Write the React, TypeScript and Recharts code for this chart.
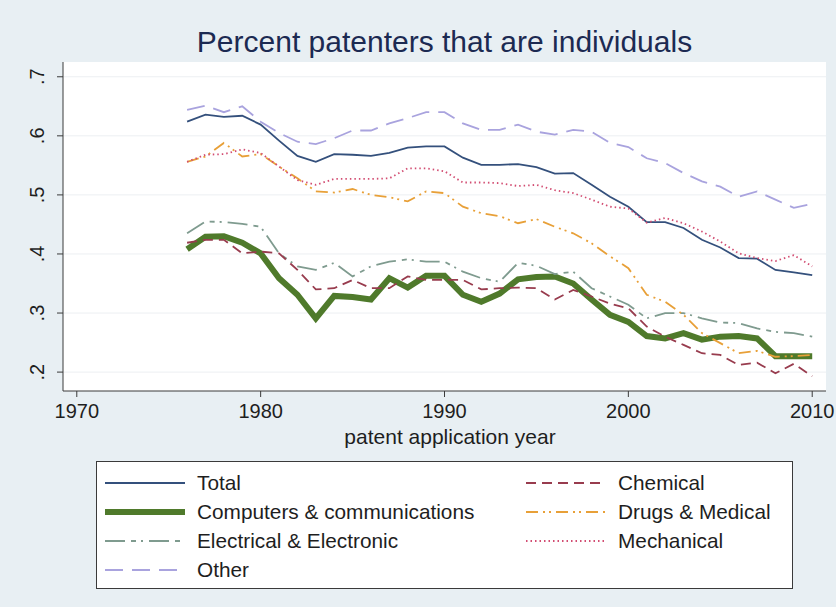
import React from 'react';
import { LineChart, Line, XAxis, YAxis, CartesianGrid } from 'recharts';

const years = [
  1976, 1977, 1978, 1979, 1980, 1981, 1982, 1983, 1984, 1985, 1986, 1987,
  1988, 1989, 1990, 1991, 1992, 1993, 1994, 1995, 1996, 1997, 1998, 1999,
  2000, 2001, 2002, 2003, 2004, 2005, 2006, 2007, 2008, 2009, 2010,
];

const total = [
  0.624, 0.636, 0.632, 0.634, 0.619, 0.592, 0.566, 0.556, 0.569, 0.568, 0.566, 0.571,
  0.580, 0.582, 0.582, 0.563, 0.551, 0.551, 0.552, 0.547, 0.536, 0.537, 0.517, 0.497,
  0.480, 0.454, 0.454, 0.444, 0.424, 0.411, 0.393, 0.392, 0.373, 0.369, 0.364,
];
const computers = [
  0.408, 0.429, 0.430, 0.419, 0.401, 0.359, 0.331, 0.291, 0.329, 0.327, 0.323, 0.359,
  0.343, 0.363, 0.363, 0.331, 0.319, 0.333, 0.357, 0.361, 0.362, 0.350, 0.323, 0.297,
  0.285, 0.261, 0.257, 0.266, 0.255, 0.260, 0.261, 0.257, 0.227, 0.227, 0.227,
];
const electrical = [
  0.435, 0.455, 0.454, 0.451, 0.446, 0.401, 0.379, 0.373, 0.385, 0.362, 0.379, 0.387,
  0.391, 0.387, 0.387, 0.370, 0.359, 0.353, 0.385, 0.380, 0.366, 0.370, 0.342, 0.328,
  0.314, 0.291, 0.300, 0.300, 0.291, 0.284, 0.283, 0.274, 0.268, 0.266, 0.260,
];
const other = [
  0.644, 0.651, 0.640, 0.650, 0.624, 0.605, 0.590, 0.586, 0.596, 0.609, 0.609, 0.621,
  0.630, 0.640, 0.640, 0.621, 0.610, 0.610, 0.619, 0.607, 0.602, 0.610, 0.607, 0.588,
  0.581, 0.562, 0.554, 0.537, 0.523, 0.514, 0.497, 0.506, 0.492, 0.478, 0.485,
];
const chemical = [
  0.419, 0.424, 0.424, 0.401, 0.404, 0.401, 0.373, 0.340, 0.342, 0.356, 0.342, 0.342,
  0.362, 0.356, 0.356, 0.356, 0.340, 0.342, 0.343, 0.342, 0.323, 0.339, 0.328, 0.316,
  0.308, 0.277, 0.260, 0.246, 0.232, 0.229, 0.212, 0.216, 0.198, 0.214, 0.193,
];
const drugs = [
  0.556, 0.565, 0.588, 0.565, 0.569, 0.548, 0.528, 0.506, 0.504, 0.510, 0.500, 0.496,
  0.489, 0.506, 0.503, 0.480, 0.469, 0.464, 0.452, 0.459, 0.446, 0.435, 0.418, 0.396,
  0.376, 0.331, 0.319, 0.297, 0.266, 0.249, 0.232, 0.236, 0.226, 0.227, 0.229,
];
const mechanical = [
  0.556, 0.568, 0.569, 0.577, 0.571, 0.548, 0.525, 0.517, 0.527, 0.527, 0.527, 0.528,
  0.545, 0.545, 0.540, 0.521, 0.521, 0.520, 0.515, 0.517, 0.508, 0.503, 0.492, 0.480,
  0.477, 0.453, 0.461, 0.452, 0.438, 0.421, 0.401, 0.393, 0.388, 0.398, 0.379,
];

const xTicks = [1970, 1980, 1990, 2000, 2010];
const yTicks = [0.2, 0.3, 0.4, 0.5, 0.6, 0.7];

const FONT = '"Liberation Sans", Arial, Helvetica, sans-serif';
const BG = '#e8eff3';
const TEXT = '#1e1e1e';

const series = [
  { key: 'total', name: 'Total', color: '#34507c', width: 1.8, dash: undefined, col: 0 },
  { key: 'computers', name: 'Computers & communications', color: '#4f7a2b', width: 6, dash: undefined, col: 0 },
  { key: 'electrical', name: 'Electrical & Electronic', color: '#7f9b8f', width: 1.8, dash: '20 6 5 5 2 6', col: 0 },
  { key: 'other', name: 'Other', color: '#a9a3de', width: 1.8, dash: '18 9', col: 0 },
  { key: 'chemical', name: 'Chemical', color: '#983c4e', width: 1.8, dash: '10 6', col: 1 },
  { key: 'drugs', name: 'Drugs & Medical', color: '#e8a038', width: 1.8, dash: '12 5 2 4 2 5', col: 1 },
  { key: 'mechanical', name: 'Mechanical', color: '#d24d72', width: 1.8, dash: '1.5 3', col: 1 },
];

const data = years.map((year, i) => ({
  year,
  total: total[i],
  computers: computers[i],
  electrical: electrical[i],
  other: other[i],
  chemical: chemical[i],
  drugs: drugs[i],
  mechanical: mechanical[i],
}));

const fmtY = (v: number) => v.toFixed(1).replace(/^0/, '');

const YTick = (props: any) => {
  const { y, payload } = props;
  return (
    <text
      x={44}
      y={y}
      transform={`rotate(-90 44 ${y})`}
      textAnchor="middle"
      fontSize={20}
      fontFamily={FONT}
      fill={TEXT}
    >
      {fmtY(payload.value)}
    </text>
  );
};

function LegendItem({ s }: { s: (typeof series)[number] }) {
  return (
    <div style={{ display: 'flex', alignItems: 'center', height: 29 }}>
      <svg width={82} height={10} style={{ marginRight: 10 }}>
        <line x1={0} y1={5} x2={80} y2={5} stroke={s.color} strokeWidth={s.width} strokeDasharray={s.dash} />
      </svg>
      <span>{s.name}</span>
    </div>
  );
}

export default function App() {
  return (
    <div
      style={{
        position: 'absolute',
        left: 0,
        top: 0,
        width: 836,
        height: 607,
        background: BG,
        fontFamily: FONT,
        color: TEXT,
      }}
    >
      <div
        style={{
          position: 'absolute',
          left: 63,
          width: 763,
          top: 27,
          lineHeight: 1,
          textAlign: 'center',
          fontSize: 30,
          color: '#1c2a52',
        }}
      >
        Percent patenters that are individuals
      </div>

      <LineChart width={836} height={607} data={data} margin={{ top: 62, right: 10, left: 0, bottom: 0 }}>
        <CartesianGrid vertical={false} fill="#ffffff" stroke="#eceff2" horizontalValues={yTicks} />
        <XAxis
          dataKey="year"
          type="number"
          domain={[1969.25, 2010.75]}
          ticks={xTicks}
          allowDataOverflow
          height={216}
          tickSize={6}
          tickMargin={7}
          tick={{ fontSize: 20, fill: TEXT, fontFamily: FONT }}
          axisLine={{ stroke: '#3a3a3a' }}
          tickLine={{ stroke: '#3a3a3a' }}
        />
        <YAxis
          type="number"
          domain={[0.168, 0.725]}
          ticks={yTicks}
          allowDataOverflow
          width={63}
          tickSize={6}
          tick={<YTick />}
          axisLine={{ stroke: '#3a3a3a' }}
          tickLine={{ stroke: '#3a3a3a' }}
        />
        {series.map(s => (
          <Line
            key={s.key}
            dataKey={s.key}
            name={s.name}
            type="linear"
            stroke={s.color}
            strokeWidth={s.width}
            strokeDasharray={s.dash}
            dot={false}
            activeDot={false}
            isAnimationActive={false}
          />
        ))}
      </LineChart>

      <div
        style={{
          position: 'absolute',
          left: 450 - 200,
          width: 400,
          top: 426,
          lineHeight: 1,
          textAlign: 'center',
          fontSize: 21,
        }}
      >
        patent application year
      </div>

      <div
        style={{
          position: 'absolute',
          left: 96,
          top: 461,
          width: 697,
          height: 128,
          boxSizing: 'border-box',
          background: '#fff',
          border: '1.5px solid #3a3a3a',
          fontSize: 20.8,
          display: 'flex',
        }}
      >
        <div style={{ position: 'absolute', left: 8, top: 6 }}>
          {series.filter(s => s.col === 0).map(s => <LegendItem key={s.key} s={s} />)}
        </div>
        <div style={{ position: 'absolute', left: 429, top: 6 }}>
          {series.filter(s => s.col === 1).map(s => <LegendItem key={s.key} s={s} />)}
        </div>
      </div>
    </div>
  );
}
